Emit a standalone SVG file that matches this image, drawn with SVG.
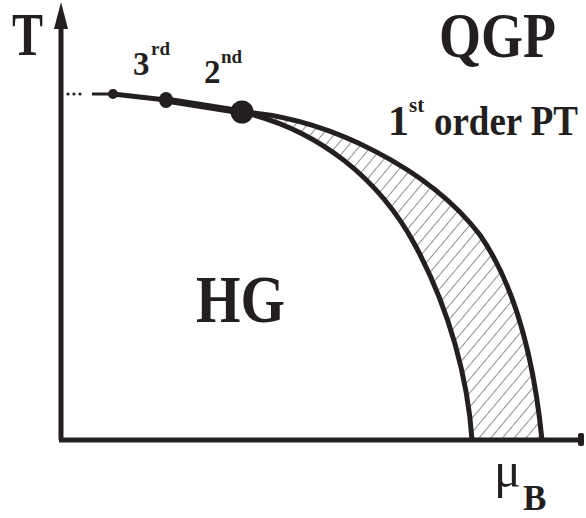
<svg xmlns="http://www.w3.org/2000/svg" width="586" height="518" viewBox="0 0 586 518">
<style>
.lbl{font-family:"Liberation Serif","Times New Roman",serif;font-weight:bold;fill:#231f20}
.ax{stroke:#231f20;stroke-width:5;fill:none}
.cv{stroke:#231f20;stroke-width:5;fill:none;stroke-linejoin:round}
.pt{fill:#231f20}
</style>
<defs>
<pattern id="hatch" width="9" height="9" patternUnits="userSpaceOnUse" patternTransform="rotate(40)">
<line x1="0" y1="0" x2="0" y2="9" stroke="#231f20" stroke-width="1"/>
</pattern>
</defs>
<rect width="586" height="518" fill="#fff"/>
<g id="axes">
<line class="ax" x1="61" y1="440" x2="61" y2="24"/>
<polygon class="pt" points="61,2 68,29 54,29"/>
<line class="ax" x1="59" y1="440" x2="581" y2="440"/>
<rect class="pt" x="578" y="433" width="6" height="13" rx="2"/>
</g>
<g id="coexistence-region">
<path d="M242,112 C330,118 430,170 480,235 C518,290 535,370 542,440 L472,440 C468,380 450,310 415,245 C380,180 320,130 242,112 Z" fill="url(#hatch)" stroke="none"/>
</g>
<g id="connectors">
<path class="cv" d="M242,112 C330,118 430,170 480,235 C518,290 535,370 542,440"/>
<path class="cv" d="M242,112 C320,130 380,180 415,245 C450,310 468,380 472,440"/>
<line x1="92" y1="94" x2="113" y2="94" stroke="#231f20" stroke-width="3"/>
<line x1="113" y1="94" x2="166" y2="100" stroke="#231f20" stroke-width="5"/>
<line x1="166" y1="100" x2="242" y2="112" stroke="#231f20" stroke-width="7"/>
<circle class="pt" cx="68" cy="94" r="1.6"/>
<circle class="pt" cx="74" cy="94" r="1.6"/>
<circle class="pt" cx="80" cy="94" r="1.6"/>
</g>
<g id="crossover-points">
<circle class="pt" cx="113" cy="94" r="5"/>
<ellipse class="pt" cx="166" cy="100" rx="7" ry="8"/>
<circle class="pt" cx="242" cy="112" r="11.5"/>
</g>
<g id="label-T"><text class="lbl" x="12" y="55" font-size="62" textLength="31" lengthAdjust="spacingAndGlyphs">T</text></g>
<g id="label-QGP"><text class="lbl" x="439" y="57" font-size="63" textLength="117" lengthAdjust="spacingAndGlyphs">QGP</text></g>
<g id="label-3rd"><text class="lbl" x="133" y="75" font-size="33">3</text><text class="lbl" x="151" y="55" font-size="19">rd</text></g>
<g id="label-2nd"><text class="lbl" x="204" y="83" font-size="33">2</text><text class="lbl" x="221" y="63" font-size="19">nd</text></g>
<g id="label-1st"><text class="lbl" x="388" y="135" font-size="42">1</text><text class="lbl" x="409" y="112" font-size="21">st</text><text class="lbl" transform="translate(434,135) scale(0.88,1)" font-size="42">order PT</text></g>
<g id="label-HG"><text class="lbl" x="196" y="322" font-size="68" textLength="89" lengthAdjust="spacingAndGlyphs">HG</text></g>
<g id="label-muB"><text x="494" y="487" font-size="50" font-family="Liberation Serif,Times New Roman,serif" fill="#231f20">μ</text><text class="lbl" x="523" y="510" font-size="35">B</text></g>
</svg>
